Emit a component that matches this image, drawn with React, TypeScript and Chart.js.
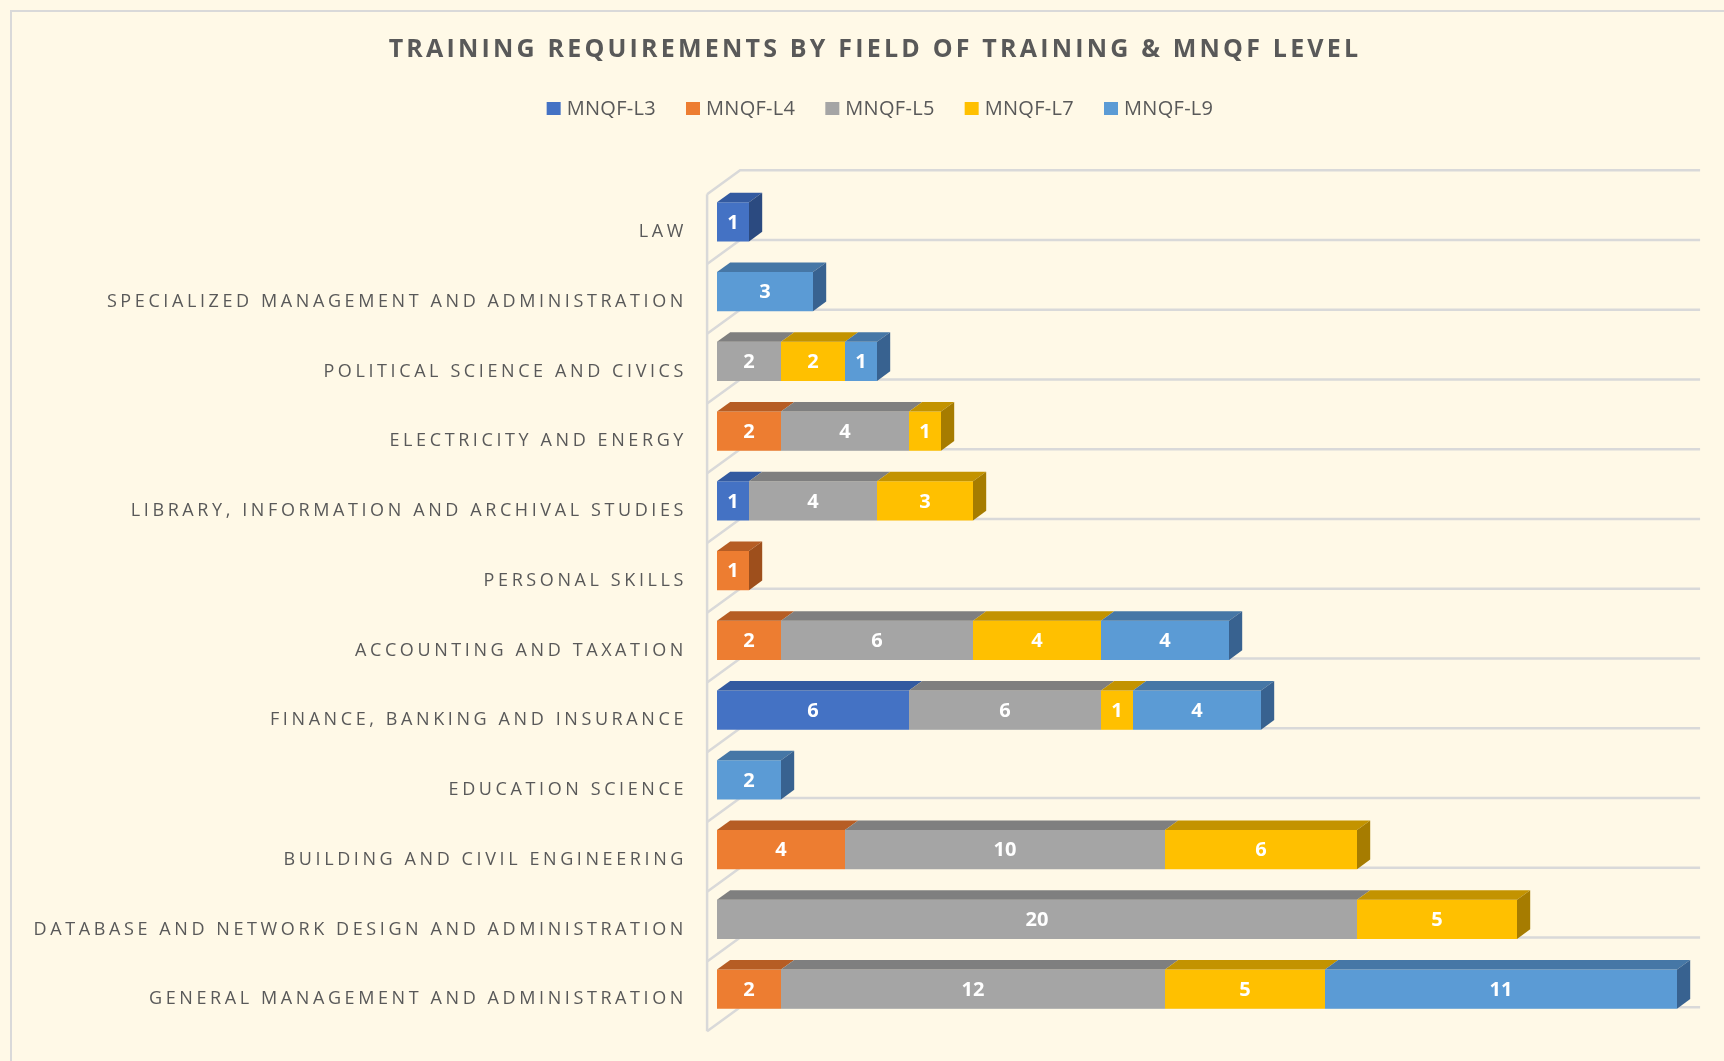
import React, { useEffect, useRef } from "react";
import { Chart, registerables } from "chart.js";

Chart.register(...registerables);

const TITLE = "TRAINING REQUIREMENTS BY FIELD OF TRAINING & MNQF LEVEL";

const CATEGORIES = [
  "LAW",
  "SPECIALIZED MANAGEMENT AND ADMINISTRATION",
  "POLITICAL SCIENCE AND CIVICS",
  "ELECTRICITY AND ENERGY",
  "LIBRARY, INFORMATION AND ARCHIVAL STUDIES",
  "PERSONAL SKILLS",
  "ACCOUNTING AND TAXATION",
  "FINANCE, BANKING AND INSURANCE",
  "EDUCATION SCIENCE",
  "BUILDING AND CIVIL ENGINEERING",
  "DATABASE AND NETWORK DESIGN AND ADMINISTRATION",
  "GENERAL MANAGEMENT AND ADMINISTRATION",
];

const SERIES_NAMES = ["MNQF-L3", "MNQF-L4", "MNQF-L5", "MNQF-L7", "MNQF-L9"];

const L3 = [1, null, null, null, 1, null, null, 6, null, null, null, null];
const L4 = [null, null, null, 2, null, 1, 2, null, null, 4, null, 2];
const L5 = [null, null, 2, 4, 4, null, 6, 6, null, 10, 20, 12];
const L7 = [null, null, 2, 1, 3, null, 4, 1, null, 6, 5, 5];
const L9 = [null, 3, 1, null, null, null, 4, 4, 2, null, null, 11];

const SERIES_VALUES = [L3, L4, L5, L7, L9];
const VALUE_MAX = 30;

// styles
const FRONT = ["#4472C4", "#ED7D31", "#A5A5A5", "#FFC000", "#5B9BD5"];
const TOP = ["#335AA0", "#B65D24", "#7F7F7F", "#C39300", "#4677A6"];
const SIDE = ["#2B4A80", "#9E4F1C", "#6E6E6E", "#A67C00", "#386290"];
const BG = "#FFF9E7";
const GRID = "#D9D9D9";
const TEXT = "#595959";

// depth geometry (full depth vector, chart plane at fraction T0)
const DX = 33;
const DY = -24;
const T0 = 0.3;
const T1 = 0.7;

const depthPlugin = {
  id: "depth3d",
  beforeDraw(chart: any) {
    const { ctx, width, height } = chart;
    ctx.save();
    ctx.fillStyle = BG;
    ctx.fillRect(0, 0, width, height);
    ctx.strokeStyle = GRID;
    ctx.lineWidth = 2;
    ctx.beginPath();
    ctx.moveTo(11, height);
    ctx.lineTo(11, 11);
    ctx.lineTo(width, 11);
    ctx.stroke();

    // title
    ctx.fillStyle = TEXT;
    ctx.font = "bold 25px 'Open Sans'";
    (ctx as any).letterSpacing = "3.2px";
    ctx.textAlign = "center";
    ctx.textBaseline = "middle";
    ctx.fillText(TITLE, 875, 50);

    // legend
    ctx.font = "20px 'Open Sans'";
    (ctx as any).letterSpacing = "0.3px";
    ctx.textAlign = "left";
    const box = 14;
    const gap = 6;
    const itemGap = 30;
    const widths = SERIES_NAMES.map((n) => ctx.measureText(n).width);
    const total =
      widths.reduce((a, w) => a + box + gap + w, 0) + itemGap * (SERIES_NAMES.length - 1);
    let lx = 880 - total / 2;
    SERIES_NAMES.forEach((n, i) => {
      ctx.fillStyle = FRONT[i];
      ctx.fillRect(lx, 102, box, 13);
      ctx.fillStyle = TEXT;
      ctx.fillText(n, lx + box + gap, 109);
      lx += box + gap + widths[i] + itemGap;
    });

    // category labels
    const ys = chart.scales.y;
    ctx.font = "18px 'Open Sans'";
    (ctx as any).letterSpacing = "3.6px";
    ctx.textAlign = "right";
    ctx.fillStyle = TEXT;
    CATEGORIES.forEach((c, j) => {
      const py = ys.getPixelForValue(j) - DY * T0 + 3;
      ctx.fillText(c, 687, py);
    });
    ctx.restore();
  },
  beforeDatasetsDraw(chart: any) {
    const { ctx, chartArea } = chart;
    const xs = chart.scales.x;
    const n = CATEGORIES.length;
    const step = (chartArea.bottom - chartArea.top) / n;
    const x0 = xs.getPixelForValue(0);
    const xm = xs.getPixelForValue(VALUE_MAX);
    const at = (px: number, py: number, t: number) => [px + DX * (t - T0), py + DY * (t - T0)];
    ctx.save();
    ctx.strokeStyle = GRID;
    ctx.lineWidth = 2.5;
    ctx.lineCap = "butt";
    // front vertical edge
    const ft = at(x0, chartArea.top, 0);
    const fb = at(x0, chartArea.bottom, 0);
    ctx.beginPath();
    ctx.moveTo(ft[0], ft[1]);
    ctx.lineTo(fb[0], fb[1]);
    ctx.stroke();
    for (let k = 0; k <= n; k++) {
      const by = chartArea.top + k * step;
      const a = at(x0, by, 0);
      const b = at(x0, by, 1);
      const c = at(xm, by, 1);
      ctx.beginPath();
      ctx.moveTo(a[0], a[1]);
      ctx.lineTo(b[0], b[1]);
      ctx.lineTo(c[0], c[1]);
      ctx.stroke();
    }
    ctx.restore();
  },
  afterDatasetsDraw(chart: any) {
    const { ctx } = chart;
    const dx = DX * (T1 - T0);
    const dy = DY * (T1 - T0);
    const n = CATEGORIES.length;
    ctx.save();
    for (let j = 0; j < n; j++) {
      let last: any = null;
      let lastIdx = -1;
      SERIES_VALUES.forEach((vals, i) => {
        if (vals[j] == null) return;
        const el: any = chart.getDatasetMeta(i).data[j];
        const p = el.getProps(["x", "y", "base", "height"], true);
        const xa = Math.min(p.base, p.x);
        const xb = Math.max(p.base, p.x);
        const yt = p.y - p.height / 2;
        ctx.fillStyle = TOP[i];
        ctx.beginPath();
        ctx.moveTo(xa, yt);
        ctx.lineTo(xb, yt);
        ctx.lineTo(xb + dx, yt + dy);
        ctx.lineTo(xa + dx, yt + dy);
        ctx.closePath();
        ctx.fill();
        last = p;
        lastIdx = i;
      });
      if (last) {
        const xb = Math.max(last.base, last.x);
        const yt = last.y - last.height / 2;
        const yb = last.y + last.height / 2;
        ctx.fillStyle = SIDE[lastIdx];
        ctx.beginPath();
        ctx.moveTo(xb, yt);
        ctx.lineTo(xb + dx, yt + dy);
        ctx.lineTo(xb + dx, yb + dy);
        ctx.lineTo(xb, yb);
        ctx.closePath();
        ctx.fill();
      }
    }
    // value labels
    ctx.fillStyle = "#FFFFFF";
    ctx.font = "bold 20px 'Open Sans'";
    ctx.textAlign = "center";
    ctx.textBaseline = "middle";
    SERIES_VALUES.forEach((vals, i) => {
      vals.forEach((v, j) => {
        if (v == null) return;
        const el: any = chart.getDatasetMeta(i).data[j];
        const p = el.getProps(["x", "y", "base"], true);
        ctx.fillText(String(v), (p.x + p.base) / 2, p.y + 1);
      });
    });
    ctx.restore();
  },
};

export default function App() {
  const ref = useRef<HTMLCanvasElement | null>(null);
  useEffect(() => {
    if (!ref.current) return;
    document.documentElement.style.overflow = "hidden";
    const chart = new Chart(ref.current, {
      type: "bar",
      data: {
        labels: CATEGORIES,
        datasets: SERIES_NAMES.map((name, i) => ({
          label: name,
          data: SERIES_VALUES[i],
          backgroundColor: FRONT[i],
          borderWidth: 0,
          barPercentage: 0.56,
          categoryPercentage: 1,
        })),
      },
      options: {
        indexAxis: "y",
        responsive: false,
        animation: false,
        events: [],
        layout: { padding: { left: 717, right: 47, top: 187, bottom: 37 } },
        scales: {
          x: { type: "linear", min: 0, max: VALUE_MAX, stacked: true, display: false },
          y: { type: "category", stacked: true, display: false },
        },
        plugins: {
          legend: { display: false },
          title: { display: false },
          tooltip: { enabled: false },
        },
      },
      plugins: [depthPlugin],
    } as any);
    return () => chart.destroy();
  }, []);
  return (
    <div style={{ position: "absolute", left: 0, top: 0, width: 1724, height: 1061, background: BG }}>
      <canvas ref={ref} width={1724} height={1061} style={{ display: "block" }} />
    </div>
  );
}
